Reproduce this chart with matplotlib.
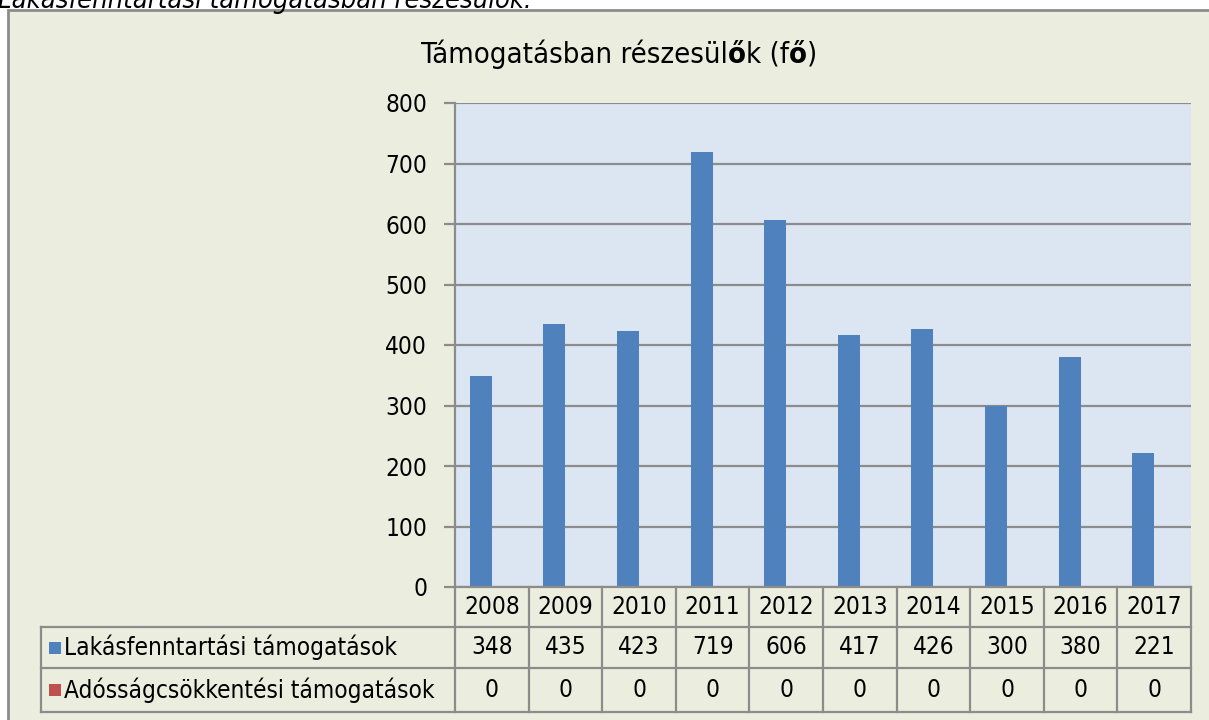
import matplotlib
matplotlib.use("Agg")
import matplotlib.pyplot as plt
import matplotlib.transforms as mtransforms
from matplotlib.lines import Line2D
from matplotlib.patches import Rectangle
import numpy as np

years = ["2008", "2009", "2010", "2011", "2012", "2013", "2014", "2015", "2016", "2017"]
lakas = [348, 435, 423, 719, 606, 417, 426, 300, 380, 221]
adossag = [0, 0, 0, 0, 0, 0, 0, 0, 0, 0]
series_names = ["Lakásfenntartási támogatások", "Adósságcsökkentési támogatások"]
yticks = [0, 100, 200, 300, 400, 500, 600, 700, 800]

FONT = ["DejaVu Sans"]
plt.rcParams['font.family'] = FONT
plt.rcParams['font.stretch'] = 'condensed'

W, H = 1209, 720
fig = plt.figure(figsize=(W / 100, H / 100), dpi=100)
fig.patch.set_facecolor("white")

def fx(px):
    return px / W

def fy(py):
    return 1 - py / H

BG = "#EBEEDE"
GRID = "#8C8C8C"
BLUE = "#4F81BD"
RED = "#C0504D"

# outer chart frame (behind everything)
fig.patches.append(Rectangle((fx(8), fy(724)), fx(1220) - fx(8), fy(10) - fy(724),
                             transform=fig.transFigure, facecolor=BG,
                             edgecolor=GRID, linewidth=2, zorder=-5))

# cut-off heading at top
fig.text(fx(-2), fy(0), "Lakásfenntartási támogatásban részesülők:", fontsize=19.5,
         style="italic", ha="left", va="center", color="black")

# plot axes
L, R, T, B = 455, 1191, 103, 587
ax = fig.add_axes([fx(L), fy(B), fx(R) - fx(L), fy(T) - fy(B)])
ax.set_facecolor("#DCE6F2")
x = np.arange(len(years))
w = 0.30
ax.bar(x - w / 2, lakas, w, color=BLUE, zorder=3)
ax.bar(x + w / 2, adossag, w, color=RED, zorder=3)
ax.set_xlim(-0.5, len(years) - 0.5)
ax.set_ylim(0, 800)
ax.set_yticks(yticks)
ax.set_yticklabels([str(v) for v in yticks], fontsize=17.5)
ax.yaxis.grid(True, color=GRID, linewidth=1.6, zorder=1)
ax.set_axisbelow(True)
ax.set_xticks([])
for sp in ["top", "right", "bottom"]:
    ax.spines[sp].set_visible(False)
ax.spines["left"].set_color(GRID)
ax.spines["left"].set_linewidth(1.6)
ax.tick_params(axis="y", length=8, width=1.6, color=GRID, pad=12)

# title with bold ő (as in the reference)
t1 = fig.text(fx(421), fy(63), "Támogatásban részesül", fontsize=21,
              ha="left", va="baseline")
pieces = [("ő", True), ("k (f", False), ("ő", True), (")", False)]
prev = t1
for s, b in pieces:
    prev = ax.annotate(s, xy=(1, 0), xycoords=prev, xytext=(0, 0), textcoords="offset points",
                       fontsize=21, weight="bold" if b else "normal",
                       ha="left", va="bottom", annotation_clip=False)

# data table
blend = mtransforms.blended_transform_factory(ax.transData, fig.transFigure)
row_y = [587, 627, 668, 712]
lw = 1.6
for i in range(len(years) + 1):
    fig.add_artist(Line2D([i - 0.5, i - 0.5], [fy(587), fy(712)], transform=blend,
                          color=GRID, linewidth=lw))
fig.add_artist(Line2D([-0.5, len(years) - 0.5], [fy(587), fy(587)], transform=blend,
                      color=GRID, linewidth=lw))
for yy in row_y[1:]:
    fig.add_artist(Line2D([fx(41), fx(1191)], [fy(yy), fy(yy)], transform=fig.transFigure,
                          color=GRID, linewidth=lw))
fig.add_artist(Line2D([fx(41), fx(41)], [fy(627), fy(712)], transform=fig.transFigure,
                      color=GRID, linewidth=lw))

fs = 17.5
for i, yr in enumerate(years):
    fig.text(i, fy((587 + 627) / 2), yr, transform=blend, ha="center", va="center", fontsize=fs)
for i, v in enumerate(lakas):
    fig.text(i, fy((627 + 668) / 2), str(v), transform=blend, ha="center", va="center", fontsize=fs)
for i, v in enumerate(adossag):
    fig.text(i, fy((668 + 712) / 2), str(v), transform=blend, ha="center", va="center", fontsize=fs)

for name, col, (y0, y1) in [(series_names[0], BLUE, (627, 668)), (series_names[1], RED, (668, 712))]:
    yc = (y0 + y1) / 2
    fig.patches.append(Rectangle((fx(49), fy(yc + 6)), fx(12), fy(yc - 6) - fy(yc + 6),
                                 transform=fig.transFigure, facecolor=col, edgecolor="none"))
    fig.text(fx(64), fy(yc), name, ha="left", va="center", fontsize=fs)

fig.savefig("out.png", dpi=100, facecolor="white")
